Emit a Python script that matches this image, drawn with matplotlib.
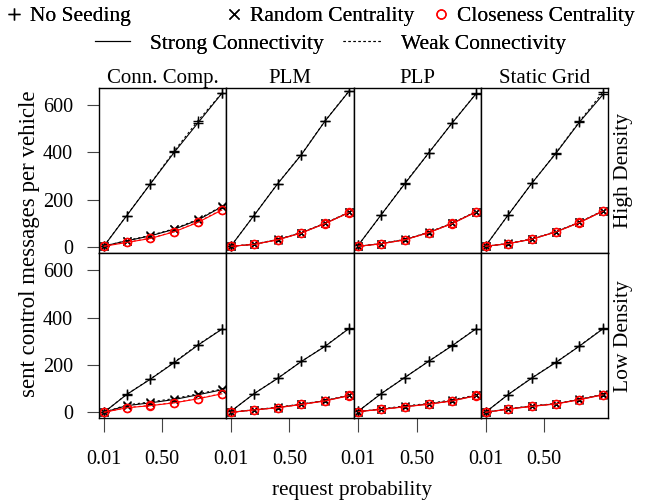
import matplotlib
matplotlib.use("Agg")
import matplotlib.pyplot as plt
from matplotlib.lines import Line2D

plt.rcParams['font.family'] = ['Liberation Serif', 'DejaVu Serif']

# ---------------- data ----------------
request_prob = [0.01, 0.2, 0.4, 0.6, 0.8, 1.0]
algorithms = ["Conn. Comp.", "PLM", "PLP", "Static Grid"]
densities = ["High Density", "Low Density"]
x_ticks = [0.01, 0.50]
x_tick_labels = ["0.01", "0.50"]
y_ticks = [0, 200, 400, 600]
y_tick_labels = ["0", "200", "400", "600"]

# High density: one list per algorithm (Conn. Comp., PLM, PLP, Static Grid)
high_none_strong = [[4, 132, 267, 400, 525, 649],
                    [5, 132, 267, 390, 533, 658],
                    [8, 135, 267, 397, 525, 648],
                    [4, 135, 270, 395, 528, 646]]
high_none_weak = [[4, 133, 268, 406, 534, 650],
                  [5, 132, 268, 391, 534, 659],
                  [8, 134, 270, 396, 526, 649],
                  [4, 135, 270, 396, 531, 657]]
high_random_strong = [[4, 26, 47, 75, 114, 170],
                      [3, 11, 31, 60, 100, 146],
                      [3, 14, 31, 61, 100, 149],
                      [3, 14, 33, 64, 104, 153]]
high_random_weak = [[4, 27, 49, 77, 117, 172],
                    [3, 12, 32, 61, 101, 147],
                    [3, 14, 32, 62, 101, 150],
                    [3, 15, 34, 65, 105, 154]]
high_close_strong = [[3, 19, 36, 64, 104, 156],
                     [3, 11, 30, 59, 99, 145],
                     [3, 13, 30, 60, 99, 148],
                     [3, 14, 33, 63, 103, 152]]
high_close_weak = [[3, 20, 37, 65, 106, 158],
                   [3, 11, 31, 60, 100, 146],
                   [3, 14, 31, 61, 100, 149],
                   [3, 14, 33, 64, 104, 153]]

# Low density
low_none_strong = [[0, 75, 140, 210, 284, 351],
                   [5, 78, 143, 215, 279, 354],
                   [5, 78, 147, 215, 282, 353],
                   [0, 75, 145, 210, 280, 354]]
low_none_weak = [[0, 76, 141, 212, 286, 352],
                 [5, 78, 144, 215, 280, 355],
                 [5, 79, 147, 216, 283, 354],
                 [0, 75, 146, 211, 281, 355]]
low_random_strong = [[0, 28, 40, 54, 74, 95],
                     [0, 10, 20, 34, 49, 71],
                     [3, 13, 24, 35, 49, 71],
                     [0, 14, 26, 36, 54, 75]]
low_random_weak = [[0, 31, 44, 58, 78, 98],
                   [0, 11, 21, 35, 50, 72],
                   [3, 14, 27, 37, 53, 73],
                   [0, 15, 27, 37, 55, 76]]
low_close_strong = [[0, 19, 28, 40, 57, 78],
                    [0, 10, 19, 33, 48, 70],
                    [3, 12, 23, 34, 48, 70],
                    [0, 13, 25, 35, 53, 74]]
low_close_weak = [[0, 20, 29, 41, 58, 79],
                  [0, 10, 20, 34, 49, 71],
                  [3, 13, 24, 35, 49, 71],
                  [0, 14, 26, 36, 54, 75]]

rows = [
    [(high_none_strong, high_none_weak), (high_random_strong, high_random_weak),
     (high_close_strong, high_close_weak)],
    [(low_none_strong, low_none_weak), (low_random_strong, low_random_weak),
     (low_close_strong, low_close_weak)],
]

# ---------------- style ----------------
FS_TICK = 14.5
FS_TITLE = 15
FS_STRIP = 15.5
FS_LEG = 15.5
FS_XLAB = 15.3
FS_YLAB = 16.5
DOTTED = (0, (2.0, 2.5))
seed_styles = [
    dict(color='black', marker='+', ms=7.5, mew=1.0),
    dict(color='black', marker='x', ms=6, mew=1.0),
    dict(color='red', marker='o', ms=5.8, mew=1.0, mfc='none'),
]
LW = 0.8

fig = plt.figure(figsize=(6.67, 5.04), dpi=100)
gs = fig.add_gridspec(2, 4, left=0.1489, right=0.9115, top=0.826, bottom=0.170,
                      hspace=0, wspace=0)

xlim = (0.01 - 0.04 * 0.99, 1.0 + 0.04 * 0.99)
ylim = (-25.5, 673.5)

for r in range(2):
    for c in range(4):
        ax = fig.add_subplot(gs[r, c])
        for (strong, weak), st in zip(rows[r], seed_styles):
            ax.plot(request_prob, weak[c], linestyle=DOTTED, lw=LW,
                    color=st['color'], marker=st['marker'], ms=st['ms'],
                    mew=st['mew'], mfc=st.get('mfc', st['color']),
                    mec=st['color'])
            ax.plot(request_prob, strong[c], linestyle='-', lw=LW,
                    color=st['color'], marker=st['marker'], ms=st['ms'],
                    mew=st['mew'], mfc=st.get('mfc', st['color']),
                    mec=st['color'])
        ax.set_xlim(*xlim)
        ax.set_ylim(*ylim)
        for sp in ax.spines.values():
            sp.set_linewidth(1.0)
        if c == 0:
            ax.set_yticks(y_ticks)
            ax.set_yticklabels(y_tick_labels, fontsize=FS_TICK)
            ax.tick_params(axis='y', direction='out', length=9, width=0.8,
                           pad=10, color='#444444')
        else:
            ax.set_yticks([])
        if r == 1:
            ax.set_xticks(x_ticks)
            ax.set_xticklabels(x_tick_labels, fontsize=FS_TICK)
            ax.tick_params(axis='x', direction='out', length=10, width=0.8,
                           pad=13, color='#444444')
        else:
            ax.set_xticks([])
        if r == 0:
            ax.set_title(algorithms[c], fontsize=FS_TITLE, pad=2)
        if c == 3:
            ax.text(1.045, 0.5, densities[r], rotation=90, transform=ax.transAxes,
                    ha='left', va='center', fontsize=FS_STRIP)

fig.text(0.0435, 0.516, "sent control messages per vehicle", rotation=90,
         ha='center', va='center', fontsize=FS_YLAB)
fig.text(0.528, 0.026, "request probability", ha='center', va='center',
         fontsize=FS_XLAB)

# ---------------- legend ----------------
def one_legend(handle, label, x, y, hl, pad):
    return fig.legend(handles=[handle], labels=[label], loc='center left',
                      bbox_to_anchor=(x, y), frameon=False, fontsize=FS_LEG,
                      handlelength=hl, handletextpad=pad, borderaxespad=0,
                      borderpad=0)

h_none = Line2D([], [], color='black', marker='+', ms=9, mew=1.0, linestyle='none')
h_rand = Line2D([], [], color='black', marker='x', ms=7, mew=1.0, linestyle='none')
h_close = Line2D([], [], color='red', marker='o', ms=6.5, mew=1.0, mfc='none',
                 linestyle='none')
h_strong = Line2D([], [], color='black', lw=LW, linestyle='-')
h_weak = Line2D([], [], color='black', lw=LW, linestyle=DOTTED)

legs = [
    one_legend(h_none, "No Seeding", 0.009, 0.968, 0.75, 0.35),
    one_legend(h_rand, "Random Centrality", 0.339, 0.968, 0.75, 0.35),
    one_legend(h_close, "Closeness Centrality", 0.649, 0.968, 0.75, 0.35),
    one_legend(h_strong, "Strong Connectivity", 0.142, 0.913, 1.63, 0.93),
    one_legend(h_weak, "Weak Connectivity", 0.514, 0.913, 1.75, 0.93),
]
for lg in legs:
    fig.add_artist(lg)

fig.savefig("out.png", dpi=100)
